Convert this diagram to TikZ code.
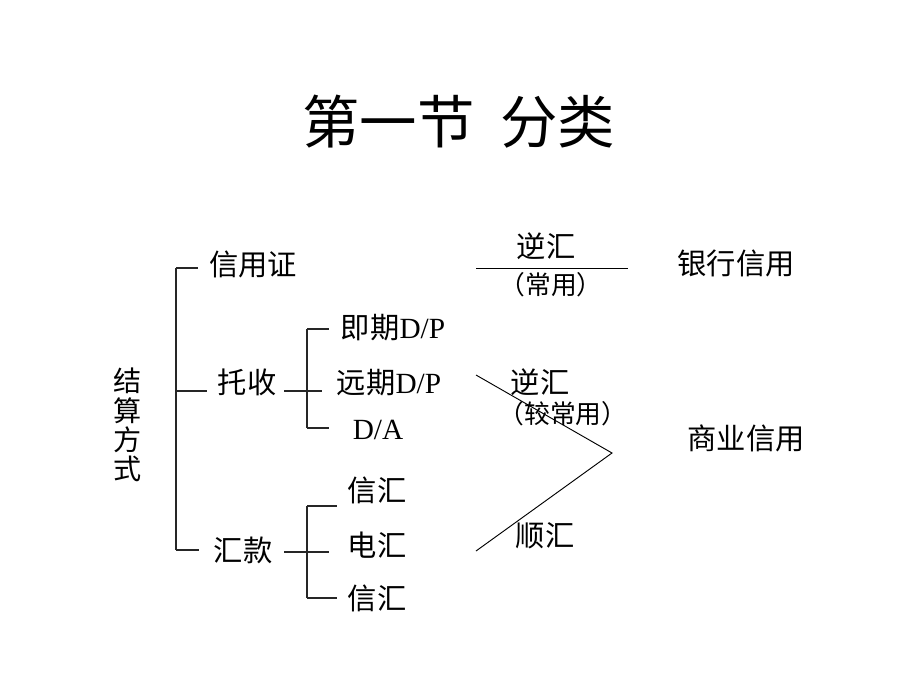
\documentclass[tikz,border=0pt]{standalone}
\usepackage{fontspec}
\setmainfont{Liberation Serif}
\newfontfamily\cjk{Noto Sans CJK SC}
\usepackage{tikz}
\usetikzlibrary{positioning}

\tikzset{
    lbl/.style={inner sep=0pt, font=\fontsize{25}{28}\selectfont\cjk},
    brk/.style={black!85, line width=0.9pt},
}

\begin{document}
\begin{tikzpicture}[x=0.03cm, y=-0.03cm]
    \useasboundingbox (0,0) rectangle (920,690);

    % Title
    \node[inner sep=0pt, font=\fontsize{49}{54}\selectfont\cjk] (title) at (459,122) {第一节\hspace{0.45em}分类};

    % Root (vertical text)
    \node[lbl, align=center, font=\fontsize{24}{25}\selectfont\cjk] (root) at (128,425) {结\\算\\方\\式};

    % First level
    \node[lbl] (lc) at (253,264) {信用证};
    \node[lbl] (tc) at (247,382) {托收};
    \node[lbl] (hk) at (243,550) {汇款};

    % Second level: collection
    \node[lbl] (dpa) at (393,328) {即期{\rmfamily D/P}};
    \node[lbl] (dpb) at (389,383) {远期{\rmfamily D/P}};
    \node[lbl, font=\fontsize{25}{28}\selectfont\rmfamily] (da) at (378,430) {D/A};

    % Second level: remittance
    \node[lbl] (mt) at (377,490) {信汇};
    \node[lbl] (tt) at (377,545) {电汇};
    \node[lbl] (dd) at (377,598) {信汇};

    % Main bracket
    \coordinate (mTop) at (176,268);
    \coordinate (mMid) at (176,391);
    \coordinate (mBot) at (176,550);
    \draw[brk] (mTop) -- (mBot);
    \draw[brk] (mTop) -- ++(22,0);
    \draw[brk] (mMid) -- ++(31,0);
    \draw[brk] (mBot) -- ++(23,0);

    % Collection bracket
    \coordinate (cTop) at (307,329);
    \coordinate (cBot) at (307,428);
    \draw[brk] (284,391) -- (322,391);
    \draw[brk] (cTop) -- (cBot);
    \draw[brk] (cTop) -- ++(22,0);
    \draw[brk] (cBot) -- ++(22,0);

    % Remittance bracket
    \coordinate (rTop) at (307,506);
    \coordinate (rBot) at (307,598);
    \draw[brk] (284,552) -- (329,552);
    \draw[brk] (rTop) -- (rBot);
    \draw[brk] (rTop) -- ++(30,0);
    \draw[brk] (rBot) -- ++(30,0);

    % Bank credit
    \coordinate (lcA) at (476,268);
    \coordinate (lcB) at (628,268);
    \draw[line width=0.8pt] (lcA) -- (lcB);
    \node[lbl] (nh1) at (546,246) {逆汇};
    \node[lbl, font=\fontsize{22}{24}\selectfont\cjk] (cy1) at (551,285) {（常用）};
    \node[lbl] (bank) at (736,263) {银行信用};

    % Commercial credit
    \coordinate (dA) at (476,375);
    \coordinate (dTip) at (612,453);
    \coordinate (dB) at (476,551);
    \draw[line width=0.8pt] (dA) -- (dTip) -- (dB);
    \node[lbl] (nh2) at (540,382) {逆汇};
    \node[lbl, font=\fontsize{22}{24}\selectfont\cjk] (cy2) at (563,414) {（较常用）};
    \node[lbl] (sh) at (545,536) {顺汇};
    \node[lbl] (trade) at (746,438) {商业信用};
\end{tikzpicture}
\end{document}
